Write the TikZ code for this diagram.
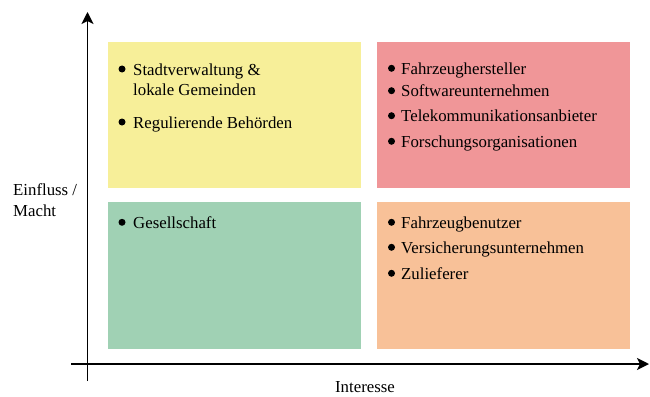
\documentclass[tikz,border=0pt]{standalone}
\usepackage{fontspec}
\setmainfont{Liberation Serif}
\usetikzlibrary{arrows.meta}
\definecolor{qyellow}{RGB}{247,239,153}
\definecolor{qred}{RGB}{240,150,152}
\definecolor{qgreen}{RGB}{160,209,180}
\definecolor{qorange}{RGB}{248,193,152}
\tikzset{
  axis/.style={line width=1.8pt,-{Stealth[length=12pt,width=12pt,inset=3pt]}},
  lbl/.style={font=\fontsize{16.8pt}{20pt}\selectfont,inner sep=0pt,anchor=base west},
  bul/.style={circle,fill=black,inner sep=0pt,minimum size=7pt}
}
\begin{document}
\begin{tikzpicture}[x=1pt,y=-1pt]
\useasboundingbox (0,0) rectangle (650,396);
% quadrants
\fill[qyellow] (108,42) rectangle (361,188);
\fill[qred] (377,42) rectangle (630,188);
\fill[qgreen] (108,202) rectangle (361,349);
\fill[qorange] (377,202) rectangle (630,349);
% axes
\coordinate (ys) at (87.5,381);
\coordinate (ye) at (87.5,12);
\coordinate (xs) at (71,364);
\coordinate (xe) at (649,364);
\draw[axis] (ys) -- (ye);
\draw[axis] (xs) -- (xe);
% axis labels
\node[lbl] (l1) at (13,195) {Einfluss /};
\node[lbl] (l2) at (13,216) {Macht};
\node[lbl,anchor=base] (l3) at (365,392) {Interesse};
% yellow
\node[bul] (b1) at (122,69) {};
\node[lbl] (t1) at (133,75) {Stadtverwaltung \&};
\node[lbl] (t1b) at (133,95) {lokale Gemeinden};
\node[bul] (b2) at (122,122) {};
\node[lbl] (t2) at (133,128) {Regulierende Behörden};
% red
\node[bul] (b3) at (391.5,68.3) {};
\node[lbl] (t3) at (401,74.3) {Fahrzeughersteller};
\node[bul] (b4) at (391.5,90.7) {};
\node[lbl] (t4) at (401,96.7) {Softwareunternehmen};
\node[bul] (b5) at (391.5,115.7) {};
\node[lbl] (t5) at (401,121.7) {Telekommunikationsanbieter};
\node[bul] (b6) at (391.5,141.3) {};
\node[lbl] (t6) at (401,147.3) {Forschungsorganisationen};
% green
\node[bul] (b7) at (122,222.3) {};
\node[lbl] (t7) at (133,228.3) {Gesellschaft};
% orange
\node[bul] (b8) at (391.5,222.3) {};
\node[lbl] (t8) at (401,228.3) {Fahrzeugbenutzer};
\node[bul] (b9) at (391.5,247.3) {};
\node[lbl] (t9) at (401,253.3) {Versicherungsunternehmen};
\node[bul] (b10) at (391.5,273.3) {};
\node[lbl] (t10) at (401,279.3) {Zulieferer};
\end{tikzpicture}
\end{document}
